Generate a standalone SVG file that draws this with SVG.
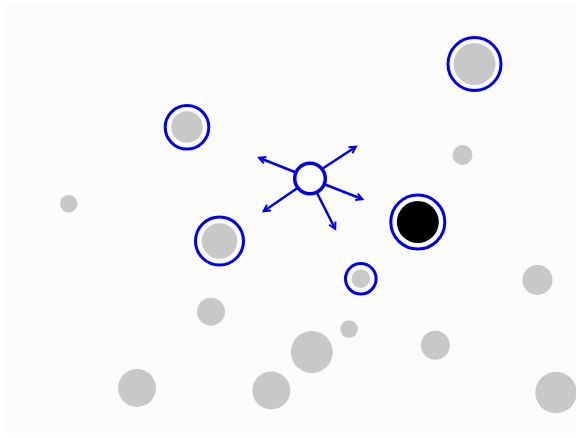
<svg xmlns="http://www.w3.org/2000/svg" width="576" height="438" viewBox="0 0 576 438">
<defs>
<style>
.dot{fill:#c8c8c8}
.ring{fill:none;stroke:#0000ee;stroke-width:3}
.edge{stroke:#0000ee;stroke-width:2.5;fill:none}
</style>
<marker id="ah" markerWidth="10" markerHeight="10" refX="7" refY="4" orient="auto" markerUnits="userSpaceOnUse" viewBox="0 0 10 8">
<path d="M1,0.5 L7.5,4 L1,7.5" fill="none" stroke="#0000ee" stroke-width="2"/>
</marker>
</defs>
<rect x="0" y="0" width="576" height="438" fill="#ffffff"/>
<rect x="5" y="5" width="571" height="428" fill="#fcfcfc"/>
<g id="dots">
<circle id="d1" class="dot" cx="462.5" cy="155" r="10"/>
<circle id="d2" class="dot" cx="68.7" cy="203.7" r="8.8"/>
<circle id="d3" class="dot" cx="537.5" cy="280" r="15"/>
<circle id="d4" class="dot" cx="211" cy="311.7" r="14"/>
<circle id="d5" class="dot" cx="349" cy="329" r="8.8"/>
<circle id="d6" class="dot" cx="311.8" cy="352" r="21"/>
<circle id="d7" class="dot" cx="435.3" cy="345.3" r="14.5"/>
<circle id="d8" class="dot" cx="137" cy="388" r="19"/>
<circle id="d9" class="dot" cx="271.3" cy="390.5" r="19"/>
<circle id="d10" class="dot" cx="556" cy="392.5" r="20.7"/>
</g>
<g id="n1"><circle class="dot" cx="474.5" cy="64" r="21"/><circle class="ring" cx="474.5" cy="64" r="26.5"/></g>
<g id="n2"><circle class="dot" cx="187" cy="127" r="15.8"/><circle class="ring" cx="187" cy="127.3" r="21.8"/></g>
<g id="n3"><circle class="dot" cx="219.5" cy="241" r="17.8"/><circle class="ring" cx="219.5" cy="241" r="24"/></g>
<g id="n4"><circle fill="#000000" cx="417.8" cy="222" r="21"/><circle class="ring" cx="417.8" cy="222" r="27"/></g>
<g id="n5"><circle class="dot" cx="360.8" cy="278.8" r="9.2"/><circle class="ring" cx="360.8" cy="278.8" r="15.3"/></g>
<g id="center"><circle cx="310" cy="178.5" r="15.3" fill="#ffffff" stroke="#0000ee" stroke-width="3.5"/></g>
<g id="connectors">
<line class="edge" x1="296" y1="172.5" x2="259.5" y2="158" marker-end="url(#ah)"/>
<line class="edge" x1="322" y1="169" x2="355.5" y2="147" marker-end="url(#ah)"/>
<line class="edge" x1="325" y1="184.5" x2="362" y2="199" marker-end="url(#ah)"/>
<line class="edge" x1="317" y1="193" x2="335" y2="228.5" marker-end="url(#ah)"/>
<line class="edge" x1="297.5" y1="188" x2="264" y2="211" marker-end="url(#ah)"/>
</g>
</svg>
